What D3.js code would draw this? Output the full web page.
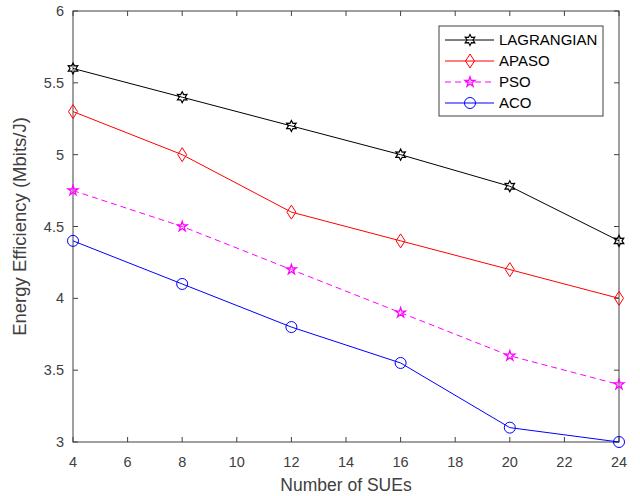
<!DOCTYPE html>
<html>
<head>
<meta charset="utf-8">
<script src="https://cdn.jsdelivr.net/npm/d3@7"></script>
<style>
  body { margin: 0; background: #fff; }
  text { font-family: "Liberation Sans", Arial, sans-serif; fill: #404040; }
</style>
</head>
<body>
<div id="chart"></div>
<script>
// chart data
var sues = [4, 8, 12, 16, 20, 24];
var lagrangian = [5.6, 5.4, 5.2, 5.0, 4.78, 4.4];
var apaso = [5.3, 5.0, 4.6, 4.4, 4.2, 4.0];
var pso = [4.75, 4.5, 4.2, 3.9, 3.6, 3.4];
var aco = [4.4, 4.1, 3.8, 3.55, 3.1, 3.0];
var seriesNames = ["LAGRANGIAN", "APASO", "PSO", "ACO"];
var xTicks = [4, 6, 8, 10, 12, 14, 16, 18, 20, 22, 24];
var yTicks = [3, 3.5, 4, 4.5, 5, 5.5, 6];

var series = [
  { name: seriesNames[0], values: lagrangian, color: "#000000", marker: "hex", dash: null },
  { name: seriesNames[1], values: apaso, color: "#ff0000", marker: "diamond", dash: null },
  { name: seriesNames[2], values: pso, color: "#ff00ff", marker: "star", dash: "6,4" },
  { name: seriesNames[3], values: aco, color: "#0000ff", marker: "circle", dash: null }
];

var W = 640, H = 496;
var margin = { top: 11, right: 21, bottom: 54, left: 73 },
    width = W - margin.left - margin.right,
    height = H - margin.top - margin.bottom;

var svg = d3.select("#chart").append("svg")
    .attr("width", W).attr("height", H);
var g = svg.append("g")
    .attr("transform", "translate(" + margin.left + "," + margin.top + ")");

var x = d3.scaleLinear().domain([4, 24]).range([0, width]);
var y = d3.scaleLinear().domain([3, 6]).range([height, 0]);

var axisColor = "#404040";

// box + inward ticks on all four sides
g.append("rect")
  .attr("width", width).attr("height", height)
  .attr("fill", "none").attr("stroke", axisColor).attr("stroke-width", 1);

var tl = 5;
xTicks.forEach(function(t) {
  g.append("line").attr("x1", x(t)).attr("x2", x(t)).attr("y1", height).attr("y2", height - tl).attr("stroke", axisColor);
  g.append("line").attr("x1", x(t)).attr("x2", x(t)).attr("y1", 0).attr("y2", tl).attr("stroke", axisColor);
  g.append("text").attr("x", x(t)).attr("y", height + 25)
    .attr("text-anchor", "middle").style("font-size", "14.5px").text(t);
});
yTicks.forEach(function(t) {
  g.append("line").attr("x1", 0).attr("x2", tl).attr("y1", y(t)).attr("y2", y(t)).attr("stroke", axisColor);
  g.append("line").attr("x1", width).attr("x2", width - tl).attr("y1", y(t)).attr("y2", y(t)).attr("stroke", axisColor);
  g.append("text").attr("x", -9).attr("y", y(t)).attr("dy", "0.35em")
    .attr("text-anchor", "end").style("font-size", "14.5px").text(t);
});

// axis titles
g.append("text")
  .attr("x", width / 2).attr("y", height + 49)
  .attr("text-anchor", "middle").style("font-size", "17.5px")
  .text("Number of SUEs");
g.append("text")
  .attr("transform", "translate(" + (-47) + "," + (height / 2) + ") rotate(-90)")
  .attr("text-anchor", "middle").style("font-size", "18.5px")
  .text("Energy Efficiency (Mbits/J)");

function drawMarker(sel, type, color) {
  if (type === "circle") {
    sel.append("circle").attr("r", 5.5)
      .attr("fill", "none").attr("stroke", color).attr("stroke-width", 1);
  } else if (type === "diamond") {
    sel.append("path").attr("d", "M0,-7L4.5,0L0,7L-4.5,0Z")
      .attr("fill", "none").attr("stroke", color).attr("stroke-width", 1);
  } else if (type === "star") {
    sel.append("path").attr("d", d3.symbol().type(d3.symbolStar).size(30)())
      .attr("fill", "none").attr("stroke", color).attr("stroke-width", 1.3);
  } else if (type === "hex") {
    // hexagram, points up/down
    var pts = [];
    for (var i = 0; i < 12; i++) {
      var a = Math.PI / 6 * i + Math.PI / 2;
      var r = (i % 2 === 0) ? 5.5 : 3;
      pts.push([r * Math.cos(a), r * Math.sin(a)]);
    }
    sel.append("path").attr("d", "M" + pts.join("L") + "Z")
      .attr("fill", "none").attr("stroke", color).attr("stroke-width", 1.2);
  }
}

var line = d3.line()
  .x(function(d, i) { return x(sues[i]); })
  .y(function(d) { return y(d); });

series.forEach(function(s) {
  g.append("path")
    .attr("d", line(s.values))
    .attr("fill", "none")
    .attr("stroke", s.color)
    .attr("stroke-width", 1)
    .attr("stroke-dasharray", s.dash);
  s.values.forEach(function(v, i) {
    var m = g.append("g").attr("transform", "translate(" + x(sues[i]) + "," + y(v) + ")");
    drawMarker(m, s.marker, s.color);
  });
});

// legend
var legend = svg.append("g").attr("transform", "translate(439,26)");
legend.append("rect")
  .attr("width", 164).attr("height", 90)
  .attr("fill", "#fff").attr("stroke", axisColor).attr("stroke-width", 1);

series.forEach(function(s, i) {
  var yy = 14 + i * 21;
  legend.append("line")
    .attr("x1", 6).attr("x2", 55).attr("y1", yy).attr("y2", yy)
    .attr("stroke", s.color).attr("stroke-width", 1)
    .attr("stroke-dasharray", s.dash);
  var m = legend.append("g").attr("transform", "translate(31," + yy + ")");
  drawMarker(m, s.marker, s.color);
  legend.append("text")
    .attr("x", 60).attr("y", yy).attr("dy", "0.35em")
    .style("font-size", "15px").style("fill", "#000")
    .text(s.name);
});
</script>
</body>
</html>
